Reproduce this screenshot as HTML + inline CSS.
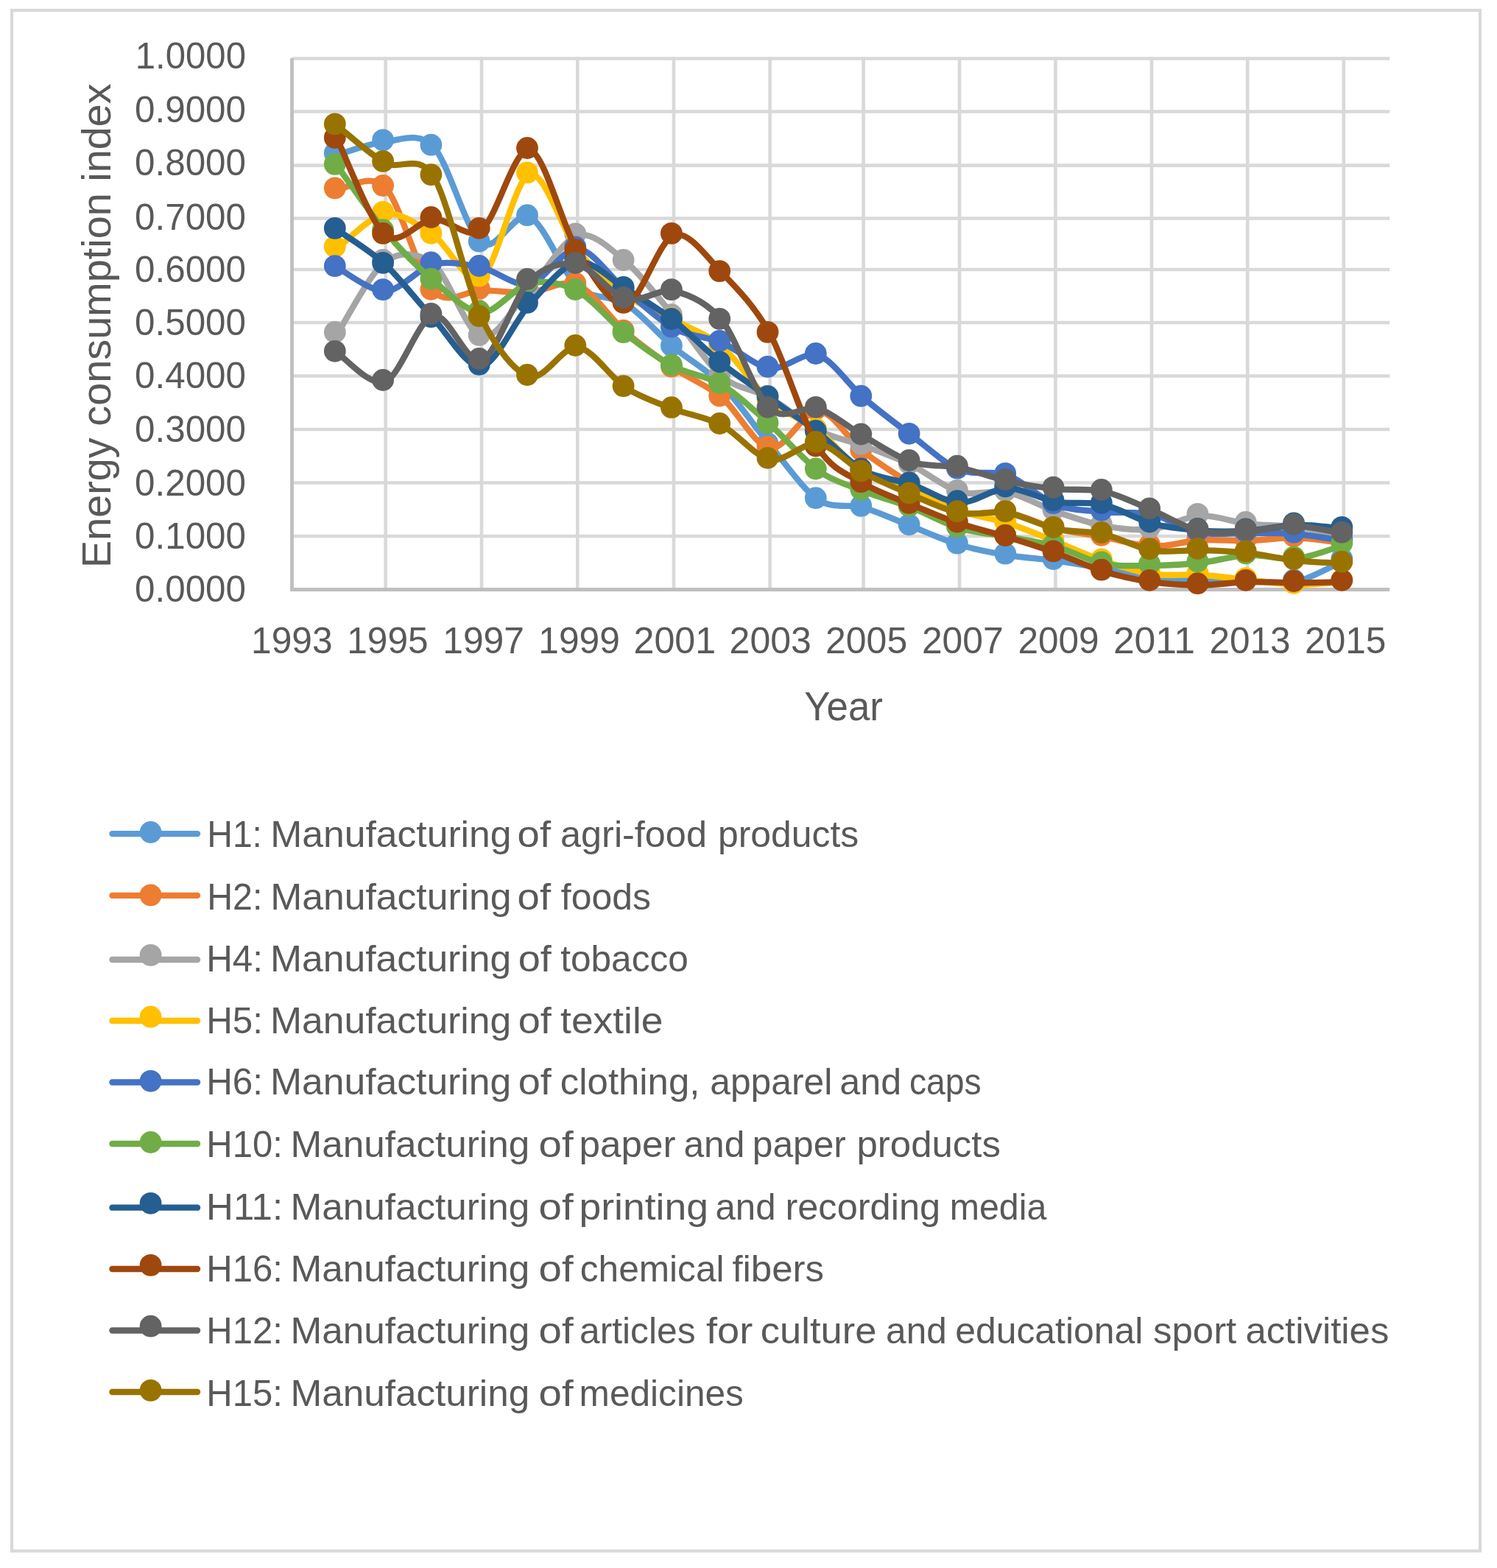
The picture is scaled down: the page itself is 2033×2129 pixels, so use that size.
<!DOCTYPE html>
<html lang="en"><head><meta charset="utf-8"><title>Energy consumption index</title>
<style>html,body{margin:0;padding:0;background:#fff}body{width:2033px;height:2129px;overflow:hidden}svg{display:block}text{font-family:"Liberation Sans",sans-serif;fill:#595959}</style></head><body>
<svg width="2033" height="2129" viewBox="0 0 2033 2129">
<rect width="2033" height="2129" fill="#fff"/>
<rect x="16" y="14" width="1994" height="2091.8" fill="none" stroke="#D9D9D9" stroke-width="4.2"/>
<g stroke="#D9D9D9" stroke-width="4.6" fill="none"><path d="M396.5 79.5H1887.2"/><path d="M396.5 151.5H1887.2"/><path d="M396.5 224.6H1887.2"/><path d="M396.5 296.5H1887.2"/><path d="M396.5 366H1887.2"/><path d="M396.5 438H1887.2"/><path d="M396.5 510.5H1887.2"/><path d="M396.5 583H1887.2"/><path d="M396.5 655.5H1887.2"/><path d="M396.5 728H1887.2"/><path d="M523.6 77.2V800.5"/><path d="M654 77.2V800.5"/><path d="M784.3 77.2V800.5"/><path d="M915 77.2V800.5"/><path d="M1045.6 77.2V800.5"/><path d="M1172.6 77.2V800.5"/><path d="M1303 77.2V800.5"/><path d="M1433.4 77.2V800.5"/><path d="M1564 77.2V800.5"/><path d="M1694.2 77.2V800.5"/><path d="M1824.8 77.2V800.5"/></g>
<g stroke="#BFBFBF" stroke-width="4.8" fill="none"><path d="M396.5 79V802.9"/><path d="M394.1 800.5H1887.2"/></g>
<g fill="#5B9BD5"><path d="M458 210.2C468.12 207.44 503.06 194.14 523.3 192.4C543.54 190.66 568.36 177.67 588.6 199C608.84 220.33 633.66 315.2 653.9 330C674.14 344.8 698.96 285.28 719.2 294.5C739.44 303.72 764.26 371.21 784.5 389.5C804.74 407.79 829.56 399.77 849.8 412.5C870.04 425.23 894.86 454.55 915.1 471.6C935.34 488.65 960.16 501.93 980.4 522.5C1000.64 543.07 1025.46 580.12 1045.7 604.3C1065.94 628.48 1091.35 665.34 1111 678.5C1130.65 691.66 1152.85 683.6 1172.5 689.2C1192.15 694.8 1217.56 706.74 1237.8 714.6C1258.04 722.46 1282.86 733.81 1303.1 739.9C1323.34 745.99 1348.16 750.58 1368.4 753.9C1388.64 757.22 1413.46 758.51 1433.7 761.3C1453.94 764.09 1478.76 768.27 1499 771.9C1519.24 775.53 1544.06 782.13 1564.3 784.7C1584.54 787.27 1609.36 787.91 1629.6 788.5C1649.84 789.09 1674.66 788.3 1694.9 788.5C1715.14 788.7 1739.96 794.08 1760.2 789.8C1780.44 785.52 1815.38 765.38 1825.5 760.9" fill="none" stroke="#5B9BD5" stroke-width="8.3" stroke-linecap="round" stroke-linejoin="round"/>
<circle cx="454.8" cy="207.9" r="14.9"/><circle cx="520.1" cy="190.1" r="14.9"/><circle cx="585.4" cy="196.7" r="14.9"/><circle cx="650.7" cy="327.7" r="14.9"/><circle cx="716" cy="292.2" r="14.9"/><circle cx="781.3" cy="387.2" r="14.9"/><circle cx="846.6" cy="410.2" r="14.9"/><circle cx="911.9" cy="469.3" r="14.9"/><circle cx="977.2" cy="520.2" r="14.9"/><circle cx="1042.5" cy="602" r="14.9"/><circle cx="1107.8" cy="676.2" r="14.9"/><circle cx="1169.3" cy="686.9" r="14.9"/><circle cx="1234.6" cy="712.3" r="14.9"/><circle cx="1299.9" cy="737.6" r="14.9"/><circle cx="1365.2" cy="751.6" r="14.9"/><circle cx="1430.5" cy="759" r="14.9"/><circle cx="1495.8" cy="769.6" r="14.9"/><circle cx="1561.1" cy="782.4" r="14.9"/><circle cx="1626.4" cy="786.2" r="14.9"/><circle cx="1691.7" cy="786.2" r="14.9"/><circle cx="1757" cy="787.5" r="14.9"/><circle cx="1822.3" cy="758.6" r="14.9"/>
</g>
<g fill="#ED7D31"><path d="M458 257.7C468.12 257.17 503.06 233 523.3 254.3C543.54 275.6 568.36 373.42 588.6 395.1C608.84 416.78 633.66 393.91 653.9 394.2C674.14 394.49 698.96 398.15 719.2 397C739.44 395.85 764.26 378.43 784.5 386.8C804.74 395.17 829.56 433.47 849.8 451C870.04 468.53 894.86 486.15 915.1 499.9C935.34 513.65 960.16 522.8 980.4 539.7C1000.64 556.59 1025.46 606.09 1045.7 608.9C1065.94 611.71 1091.35 557.12 1111 557.8C1130.65 558.48 1152.85 597.85 1172.5 613.3C1192.15 628.75 1217.56 644.76 1237.8 657.5C1258.04 670.24 1282.86 689.55 1303.1 695.5C1323.34 701.45 1348.16 692.46 1368.4 695.9C1388.64 699.34 1413.46 712.55 1433.7 717.7C1453.94 722.85 1478.76 725.33 1499 729.1C1519.24 732.87 1544.06 741.32 1564.3 742C1584.54 742.68 1609.36 734.71 1629.6 733.5C1649.84 732.29 1674.66 734.71 1694.9 734.2C1715.14 733.69 1739.96 729.7 1760.2 730.2C1780.44 730.7 1815.38 736.28 1825.5 737.4" fill="none" stroke="#ED7D31" stroke-width="8.3" stroke-linecap="round" stroke-linejoin="round"/>
<circle cx="454.8" cy="255.4" r="14.9"/><circle cx="520.1" cy="252" r="14.9"/><circle cx="585.4" cy="392.8" r="14.9"/><circle cx="650.7" cy="391.9" r="14.9"/><circle cx="716" cy="394.7" r="14.9"/><circle cx="781.3" cy="384.5" r="14.9"/><circle cx="846.6" cy="448.7" r="14.9"/><circle cx="911.9" cy="497.6" r="14.9"/><circle cx="977.2" cy="537.4" r="14.9"/><circle cx="1042.5" cy="606.6" r="14.9"/><circle cx="1107.8" cy="555.5" r="14.9"/><circle cx="1169.3" cy="611" r="14.9"/><circle cx="1234.6" cy="655.2" r="14.9"/><circle cx="1299.9" cy="693.2" r="14.9"/><circle cx="1365.2" cy="693.6" r="14.9"/><circle cx="1430.5" cy="715.4" r="14.9"/><circle cx="1495.8" cy="726.8" r="14.9"/><circle cx="1561.1" cy="739.7" r="14.9"/><circle cx="1626.4" cy="731.2" r="14.9"/><circle cx="1691.7" cy="731.9" r="14.9"/><circle cx="1757" cy="727.9" r="14.9"/><circle cx="1822.3" cy="735.1" r="14.9"/>
</g>
<g fill="#A5A5A5"><path d="M458 453.3C468.12 438.08 503.06 369.79 523.3 355.1C543.54 340.41 568.36 342.67 588.6 358.5C608.84 374.33 633.66 451.93 653.9 457.2C674.14 462.47 698.96 413.81 719.2 392.5C739.44 371.19 764.26 325.47 784.5 319.7C804.74 313.93 829.56 338.28 849.8 355.3C870.04 372.32 894.86 405.34 915.1 429.5C935.34 453.66 960.16 494.07 980.4 511.2C1000.64 528.33 1025.46 528.64 1045.7 540C1065.94 551.36 1091.35 574.39 1111 584.5C1130.65 594.61 1152.85 597.91 1172.5 605.2C1192.15 612.48 1217.56 621.75 1237.8 631.5C1258.04 641.25 1282.86 662.38 1303.1 668.1C1323.34 673.82 1348.16 664.31 1368.4 668.4C1388.64 672.49 1413.46 687.43 1433.7 694.5C1453.94 701.57 1478.76 710.28 1499 714C1519.24 717.72 1544.06 720.64 1564.3 718.5C1584.54 716.36 1609.36 701.32 1629.6 700.2C1649.84 699.08 1674.66 708.93 1694.9 711.3C1715.14 713.67 1739.96 712.85 1760.2 715.5C1780.44 718.15 1815.38 726.4 1825.5 728.4" fill="none" stroke="#A5A5A5" stroke-width="8.3" stroke-linecap="round" stroke-linejoin="round"/>
<circle cx="454.8" cy="451" r="14.9"/><circle cx="520.1" cy="352.8" r="14.9"/><circle cx="585.4" cy="356.2" r="14.9"/><circle cx="650.7" cy="454.9" r="14.9"/><circle cx="716" cy="390.2" r="14.9"/><circle cx="781.3" cy="317.4" r="14.9"/><circle cx="846.6" cy="353" r="14.9"/><circle cx="911.9" cy="427.2" r="14.9"/><circle cx="977.2" cy="508.9" r="14.9"/><circle cx="1042.5" cy="537.7" r="14.9"/><circle cx="1107.8" cy="582.2" r="14.9"/><circle cx="1169.3" cy="602.9" r="14.9"/><circle cx="1234.6" cy="629.2" r="14.9"/><circle cx="1299.9" cy="665.8" r="14.9"/><circle cx="1365.2" cy="666.1" r="14.9"/><circle cx="1430.5" cy="692.2" r="14.9"/><circle cx="1495.8" cy="711.7" r="14.9"/><circle cx="1561.1" cy="716.2" r="14.9"/><circle cx="1626.4" cy="697.9" r="14.9"/><circle cx="1691.7" cy="709" r="14.9"/><circle cx="1757" cy="713.2" r="14.9"/><circle cx="1822.3" cy="726.1" r="14.9"/>
</g>
<g fill="#FFC000"><path d="M458 337.2C468.12 329.9 503.06 292.91 523.3 290.1C543.54 287.29 568.36 305.62 588.6 319.1C608.84 332.59 633.66 389.87 653.9 377.1C674.14 364.33 698.96 242.45 719.2 236.7C739.44 230.95 764.26 314.61 784.5 340C804.74 365.39 829.56 385.85 849.8 400.5C870.04 415.15 894.86 423.65 915.1 434.5C935.34 445.35 960.16 453.45 980.4 470.5C1000.64 487.55 1025.46 526.86 1045.7 544.5C1065.94 562.14 1091.35 569.34 1111 584.3C1130.65 599.26 1152.85 628.88 1172.5 641C1192.15 653.12 1217.56 654.36 1237.8 662.5C1258.04 670.64 1282.86 686.09 1303.1 693.5C1323.34 700.91 1348.16 703.82 1368.4 710.3C1388.64 716.78 1413.46 727.33 1433.7 735.3C1453.94 743.27 1478.76 754.83 1499 761.7C1519.24 768.57 1544.06 776.69 1564.3 779.6C1584.54 782.51 1609.36 779.29 1629.6 780.5C1649.84 781.71 1674.66 785.32 1694.9 787.4C1715.14 789.48 1739.96 793.53 1760.2 793.9C1780.44 794.27 1815.38 790.44 1825.5 789.8" fill="none" stroke="#FFC000" stroke-width="8.3" stroke-linecap="round" stroke-linejoin="round"/>
<circle cx="454.8" cy="334.9" r="14.9"/><circle cx="520.1" cy="287.8" r="14.9"/><circle cx="585.4" cy="316.8" r="14.9"/><circle cx="650.7" cy="374.8" r="14.9"/><circle cx="716" cy="234.4" r="14.9"/><circle cx="781.3" cy="337.7" r="14.9"/><circle cx="846.6" cy="398.2" r="14.9"/><circle cx="911.9" cy="432.2" r="14.9"/><circle cx="977.2" cy="468.2" r="14.9"/><circle cx="1042.5" cy="542.2" r="14.9"/><circle cx="1107.8" cy="582" r="14.9"/><circle cx="1169.3" cy="638.7" r="14.9"/><circle cx="1234.6" cy="660.2" r="14.9"/><circle cx="1299.9" cy="691.2" r="14.9"/><circle cx="1365.2" cy="708" r="14.9"/><circle cx="1430.5" cy="733" r="14.9"/><circle cx="1495.8" cy="759.4" r="14.9"/><circle cx="1561.1" cy="777.3" r="14.9"/><circle cx="1626.4" cy="778.2" r="14.9"/><circle cx="1691.7" cy="785.1" r="14.9"/><circle cx="1757" cy="791.6" r="14.9"/><circle cx="1822.3" cy="787.5" r="14.9"/>
</g>
<g fill="#4472C4"><path d="M458 363.4C468.12 368.36 503.06 396.08 523.3 395.4C543.54 394.72 568.36 363.98 588.6 359C608.84 354.02 633.66 359.12 653.9 363.3C674.14 367.49 698.96 389.98 719.2 386C739.44 382.02 764.26 336.28 784.5 337.6C804.74 338.92 829.56 377.7 849.8 394.5C870.04 411.3 894.86 435.06 915.1 446C935.34 456.94 960.16 456.7 980.4 465.1C1000.64 473.5 1025.46 497.53 1045.7 500.2C1065.94 502.87 1091.35 476.13 1111 482.3C1130.65 488.47 1152.85 523.14 1172.5 540C1192.15 556.86 1217.56 575.91 1237.8 591.1C1258.04 606.29 1282.86 629.61 1303.1 638C1323.34 646.39 1348.16 637.85 1368.4 645.2C1388.64 652.55 1413.46 677.67 1433.7 685.4C1453.94 693.13 1478.76 693.07 1499 695.1C1519.24 697.13 1544.06 694.13 1564.3 698.5C1584.54 702.87 1609.36 719.38 1629.6 723.3C1649.84 727.22 1674.66 723.55 1694.9 723.8C1715.14 724.05 1739.96 723.19 1760.2 724.9C1780.44 726.61 1815.38 733.27 1825.5 734.8" fill="none" stroke="#4472C4" stroke-width="8.3" stroke-linecap="round" stroke-linejoin="round"/>
<circle cx="454.8" cy="361.1" r="14.9"/><circle cx="520.1" cy="393.1" r="14.9"/><circle cx="585.4" cy="356.7" r="14.9"/><circle cx="650.7" cy="361" r="14.9"/><circle cx="716" cy="383.7" r="14.9"/><circle cx="781.3" cy="335.3" r="14.9"/><circle cx="846.6" cy="392.2" r="14.9"/><circle cx="911.9" cy="443.7" r="14.9"/><circle cx="977.2" cy="462.8" r="14.9"/><circle cx="1042.5" cy="497.9" r="14.9"/><circle cx="1107.8" cy="480" r="14.9"/><circle cx="1169.3" cy="537.7" r="14.9"/><circle cx="1234.6" cy="588.8" r="14.9"/><circle cx="1299.9" cy="635.7" r="14.9"/><circle cx="1365.2" cy="642.9" r="14.9"/><circle cx="1430.5" cy="683.1" r="14.9"/><circle cx="1495.8" cy="692.8" r="14.9"/><circle cx="1561.1" cy="696.2" r="14.9"/><circle cx="1626.4" cy="721" r="14.9"/><circle cx="1691.7" cy="721.5" r="14.9"/><circle cx="1757" cy="722.6" r="14.9"/><circle cx="1822.3" cy="732.5" r="14.9"/>
</g>
<g fill="#70AD47"><path d="M458 225.2C468.12 239.04 503.06 290.35 523.3 314.5C543.54 338.65 568.36 363.95 588.6 381C608.84 398.05 633.66 423.96 653.9 424.5C674.14 425.04 698.96 389.03 719.2 384.5C739.44 379.97 764.26 384.62 784.5 395.3C804.74 405.98 829.56 437.53 849.8 453.4C870.04 469.27 894.86 487.02 915.1 497.7C935.34 508.38 960.16 510.1 980.4 522.3C1000.64 534.5 1025.46 558.34 1045.7 576.4C1065.94 594.46 1091.35 624.79 1111 638.8C1130.65 652.81 1152.85 658.99 1172.5 666.8C1192.15 674.61 1217.56 681.39 1237.8 689.2C1258.04 697.01 1282.86 711.06 1303.1 717.2C1323.34 723.34 1348.16 724.97 1368.4 728.8C1388.64 732.63 1413.46 736.18 1433.7 741.9C1453.94 747.62 1478.76 761.69 1499 765.7C1519.24 769.71 1544.06 767.99 1564.3 767.8C1584.54 767.61 1609.36 766.7 1629.6 764.5C1649.84 762.3 1674.66 754.51 1694.9 753.6C1715.14 752.69 1739.96 760.74 1760.2 758.6C1780.44 756.46 1815.38 742.71 1825.5 739.8" fill="none" stroke="#70AD47" stroke-width="8.3" stroke-linecap="round" stroke-linejoin="round"/>
<circle cx="454.8" cy="222.9" r="14.9"/><circle cx="520.1" cy="312.2" r="14.9"/><circle cx="585.4" cy="378.7" r="14.9"/><circle cx="650.7" cy="422.2" r="14.9"/><circle cx="716" cy="382.2" r="14.9"/><circle cx="781.3" cy="393" r="14.9"/><circle cx="846.6" cy="451.1" r="14.9"/><circle cx="911.9" cy="495.4" r="14.9"/><circle cx="977.2" cy="520" r="14.9"/><circle cx="1042.5" cy="574.1" r="14.9"/><circle cx="1107.8" cy="636.5" r="14.9"/><circle cx="1169.3" cy="664.5" r="14.9"/><circle cx="1234.6" cy="686.9" r="14.9"/><circle cx="1299.9" cy="714.9" r="14.9"/><circle cx="1365.2" cy="726.5" r="14.9"/><circle cx="1430.5" cy="739.6" r="14.9"/><circle cx="1495.8" cy="763.4" r="14.9"/><circle cx="1561.1" cy="765.5" r="14.9"/><circle cx="1626.4" cy="762.2" r="14.9"/><circle cx="1691.7" cy="751.3" r="14.9"/><circle cx="1757" cy="756.3" r="14.9"/><circle cx="1822.3" cy="737.5" r="14.9"/>
</g>
<g fill="#255E91"><path d="M458 312.2C468.12 319.49 503.06 340.55 523.3 359.2C543.54 377.85 568.36 411.11 588.6 432.5C608.84 453.89 633.66 500.19 653.9 497.2C674.14 494.21 698.96 435.09 719.2 413.2C739.44 391.31 764.26 359.27 784.5 356C804.74 352.73 829.56 379.81 849.8 392.1C870.04 404.39 894.86 419.57 915.1 435.3C935.34 451.03 960.16 477.29 980.4 493.6C1000.64 509.91 1025.46 525.98 1045.7 540.5C1065.94 555.02 1091.35 572.06 1111 587.3C1130.65 602.54 1152.85 627.89 1172.5 638.8C1192.15 649.71 1217.56 650.93 1237.8 657.7C1258.04 664.47 1282.86 681.71 1303.1 682.5C1323.34 683.29 1348.16 662.95 1368.4 662.8C1388.64 662.64 1413.46 678.03 1433.7 681.5C1453.94 684.97 1478.76 680.66 1499 685.2C1519.24 689.74 1544.06 705.36 1564.3 710.8C1584.54 716.24 1609.36 718.78 1629.6 720.3C1649.84 721.82 1674.66 721.79 1694.9 720.6C1715.14 719.41 1739.96 712.99 1760.2 712.6C1780.44 712.21 1815.38 717.25 1825.5 718.1" fill="none" stroke="#255E91" stroke-width="8.3" stroke-linecap="round" stroke-linejoin="round"/>
<circle cx="454.8" cy="309.9" r="14.9"/><circle cx="520.1" cy="356.9" r="14.9"/><circle cx="585.4" cy="430.2" r="14.9"/><circle cx="650.7" cy="494.9" r="14.9"/><circle cx="716" cy="410.9" r="14.9"/><circle cx="781.3" cy="353.7" r="14.9"/><circle cx="846.6" cy="389.8" r="14.9"/><circle cx="911.9" cy="433" r="14.9"/><circle cx="977.2" cy="491.3" r="14.9"/><circle cx="1042.5" cy="538.2" r="14.9"/><circle cx="1107.8" cy="585" r="14.9"/><circle cx="1169.3" cy="636.5" r="14.9"/><circle cx="1234.6" cy="655.4" r="14.9"/><circle cx="1299.9" cy="680.2" r="14.9"/><circle cx="1365.2" cy="660.5" r="14.9"/><circle cx="1430.5" cy="679.2" r="14.9"/><circle cx="1495.8" cy="682.9" r="14.9"/><circle cx="1561.1" cy="708.5" r="14.9"/><circle cx="1626.4" cy="718" r="14.9"/><circle cx="1691.7" cy="718.3" r="14.9"/><circle cx="1757" cy="710.3" r="14.9"/><circle cx="1822.3" cy="715.8" r="14.9"/>
</g>
<g fill="#9E480E"><path d="M458 189.2C468.12 209.35 503.06 302.44 523.3 319.2C543.54 335.96 568.36 298.4 588.6 297.3C608.84 296.2 633.66 326.67 653.9 312.1C674.14 297.53 698.96 198.74 719.2 203.3C739.44 207.86 764.26 308.97 784.5 341.5C804.74 374.03 829.56 416.66 849.8 413.2C870.04 409.74 894.86 325.83 915.1 319.2C935.34 312.57 960.16 349.63 980.4 370.4C1000.64 391.17 1025.46 416.4 1045.7 453.2C1065.94 490 1091.35 576.3 1111 607.8C1130.65 639.3 1152.85 644.4 1172.5 656.4C1192.15 668.4 1217.56 676.77 1237.8 685.2C1258.04 693.63 1282.86 703.96 1303.1 710.8C1323.34 717.64 1348.16 723.12 1368.4 729.3C1388.64 735.48 1413.46 743.46 1433.7 750.7C1453.94 757.94 1478.76 769.89 1499 776C1519.24 782.11 1544.06 787.23 1564.3 790.1C1584.54 792.97 1609.36 794.5 1629.6 794.5C1649.84 794.5 1674.66 790.6 1694.9 790.1C1715.14 789.6 1739.96 791.3 1760.2 791.3C1780.44 791.3 1815.38 790.29 1825.5 790.1" fill="none" stroke="#9E480E" stroke-width="8.3" stroke-linecap="round" stroke-linejoin="round"/>
<circle cx="454.8" cy="186.9" r="14.9"/><circle cx="520.1" cy="316.9" r="14.9"/><circle cx="585.4" cy="295" r="14.9"/><circle cx="650.7" cy="309.8" r="14.9"/><circle cx="716" cy="201" r="14.9"/><circle cx="781.3" cy="339.2" r="14.9"/><circle cx="846.6" cy="410.9" r="14.9"/><circle cx="911.9" cy="316.9" r="14.9"/><circle cx="977.2" cy="368.1" r="14.9"/><circle cx="1042.5" cy="450.9" r="14.9"/><circle cx="1107.8" cy="605.5" r="14.9"/><circle cx="1169.3" cy="654.1" r="14.9"/><circle cx="1234.6" cy="682.9" r="14.9"/><circle cx="1299.9" cy="708.5" r="14.9"/><circle cx="1365.2" cy="727" r="14.9"/><circle cx="1430.5" cy="748.4" r="14.9"/><circle cx="1495.8" cy="773.7" r="14.9"/><circle cx="1561.1" cy="787.8" r="14.9"/><circle cx="1626.4" cy="792.2" r="14.9"/><circle cx="1691.7" cy="787.8" r="14.9"/><circle cx="1757" cy="789" r="14.9"/><circle cx="1822.3" cy="787.8" r="14.9"/>
</g>
<g fill="#636363"><path d="M458 479.1C468.12 485.18 503.06 526.17 523.3 518.3C543.54 510.43 568.36 432.8 588.6 428.3C608.84 423.81 633.66 496.59 653.9 489.3C674.14 482.01 698.96 401.45 719.2 381.3C739.44 361.15 764.26 355.43 784.5 359.3C804.74 363.18 829.56 400.7 849.8 406.3C870.04 411.9 894.86 390.92 915.1 395.4C935.34 399.88 960.16 410.45 980.4 435.2C1000.64 459.95 1025.46 536.52 1045.7 555.1C1065.94 573.68 1091.35 549.41 1111 555.1C1130.65 560.79 1152.85 580.61 1172.5 591.8C1192.15 602.99 1217.56 620.6 1237.8 627.3C1258.04 634 1282.86 630.99 1303.1 635C1323.34 639.01 1348.16 648.72 1368.4 653.2C1388.64 657.68 1413.46 661.71 1433.7 663.9C1453.94 666.09 1478.76 662.85 1499 667.3C1519.24 671.75 1544.06 684.28 1564.3 692.6C1584.54 700.92 1609.36 716.52 1629.6 721C1649.84 725.48 1674.66 722.57 1694.9 721.5C1715.14 720.43 1739.96 713.57 1760.2 714.1C1780.44 714.63 1815.38 723.23 1825.5 724.9" fill="none" stroke="#636363" stroke-width="8.3" stroke-linecap="round" stroke-linejoin="round"/>
<circle cx="454.8" cy="476.8" r="14.9"/><circle cx="520.1" cy="516" r="14.9"/><circle cx="585.4" cy="426" r="14.9"/><circle cx="650.7" cy="487" r="14.9"/><circle cx="716" cy="379" r="14.9"/><circle cx="781.3" cy="357" r="14.9"/><circle cx="846.6" cy="404" r="14.9"/><circle cx="911.9" cy="393.1" r="14.9"/><circle cx="977.2" cy="432.9" r="14.9"/><circle cx="1042.5" cy="552.8" r="14.9"/><circle cx="1107.8" cy="552.8" r="14.9"/><circle cx="1169.3" cy="589.5" r="14.9"/><circle cx="1234.6" cy="625" r="14.9"/><circle cx="1299.9" cy="632.7" r="14.9"/><circle cx="1365.2" cy="650.9" r="14.9"/><circle cx="1430.5" cy="661.6" r="14.9"/><circle cx="1495.8" cy="665" r="14.9"/><circle cx="1561.1" cy="690.3" r="14.9"/><circle cx="1626.4" cy="718.7" r="14.9"/><circle cx="1691.7" cy="719.2" r="14.9"/><circle cx="1757" cy="711.8" r="14.9"/><circle cx="1822.3" cy="722.6" r="14.9"/>
</g>
<g fill="#997300"><path d="M458 170.7C468.12 178.53 503.06 210.55 523.3 221.2C543.54 231.85 568.36 206.8 588.6 239.4C608.84 272 633.66 389.36 653.9 431.5C674.14 473.64 698.96 505.13 719.2 511.3C739.44 517.47 764.26 468.96 784.5 471.3C804.74 473.64 829.56 513.35 849.8 526.4C870.04 539.45 894.86 547.61 915.1 555.5C935.34 563.39 960.16 566.67 980.4 577.3C1000.64 587.93 1025.46 620.22 1045.7 624.1C1065.94 627.97 1091.35 599.57 1111 602.3C1130.65 605.03 1152.85 630.94 1172.5 641.7C1192.15 652.46 1217.56 663.22 1237.8 671.7C1258.04 680.18 1282.86 692.57 1303.1 696.4C1323.34 700.23 1348.16 693.04 1368.4 696.4C1388.64 699.76 1413.46 713.62 1433.7 718.1C1453.94 722.58 1478.76 720.76 1499 725.3C1519.24 729.84 1544.06 744.02 1564.3 747.4C1584.54 750.78 1609.36 746.59 1629.6 747.1C1649.84 747.61 1674.66 748.51 1694.9 750.7C1715.14 752.89 1739.96 758.98 1760.2 761.2C1780.44 763.42 1815.38 764.41 1825.5 765" fill="none" stroke="#997300" stroke-width="8.3" stroke-linecap="round" stroke-linejoin="round"/>
<circle cx="454.8" cy="168.4" r="14.9"/><circle cx="520.1" cy="218.9" r="14.9"/><circle cx="585.4" cy="237.1" r="14.9"/><circle cx="650.7" cy="429.2" r="14.9"/><circle cx="716" cy="509" r="14.9"/><circle cx="781.3" cy="469" r="14.9"/><circle cx="846.6" cy="524.1" r="14.9"/><circle cx="911.9" cy="553.2" r="14.9"/><circle cx="977.2" cy="575" r="14.9"/><circle cx="1042.5" cy="621.8" r="14.9"/><circle cx="1107.8" cy="600" r="14.9"/><circle cx="1169.3" cy="639.4" r="14.9"/><circle cx="1234.6" cy="669.4" r="14.9"/><circle cx="1299.9" cy="694.1" r="14.9"/><circle cx="1365.2" cy="694.1" r="14.9"/><circle cx="1430.5" cy="715.8" r="14.9"/><circle cx="1495.8" cy="723" r="14.9"/><circle cx="1561.1" cy="745.1" r="14.9"/><circle cx="1626.4" cy="744.8" r="14.9"/><circle cx="1691.7" cy="748.4" r="14.9"/><circle cx="1757" cy="758.9" r="14.9"/><circle cx="1822.3" cy="762.7" r="14.9"/>
</g>
<text transform="translate(183.76 93.2) scale(0.9925 1)" font-size="49.5">1.0000</text>
<text transform="translate(183.07 166.4) scale(0.9971 1)" font-size="49.5">0.9000</text>
<text transform="translate(183.07 238.3) scale(0.9971 1)" font-size="49.5">0.8000</text>
<text transform="translate(183.07 311.8) scale(0.9971 1)" font-size="49.5">0.7000</text>
<text transform="translate(183.07 383.3) scale(0.9971 1)" font-size="49.5">0.6000</text>
<text transform="translate(183.07 455.2) scale(0.9971 1)" font-size="49.5">0.5000</text>
<text transform="translate(183.07 527.1) scale(0.9971 1)" font-size="49.5">0.4000</text>
<text transform="translate(183.07 600.3) scale(0.9971 1)" font-size="49.5">0.3000</text>
<text transform="translate(183.07 672.6) scale(0.9971 1)" font-size="49.5">0.2000</text>
<text transform="translate(183.07 745) scale(0.9971 1)" font-size="49.5">0.1000</text>
<text transform="translate(183.07 817.3) scale(0.9971 1)" font-size="49.5">0.0000</text>
<text transform="translate(341.12 887) scale(1.0031 1)" font-size="49.5">1993</text>
<text transform="translate(471.22 887) scale(1.0022 1)" font-size="49.5">1995</text>
<text transform="translate(601.21 887) scale(1.0062 1)" font-size="49.5">1997</text>
<text transform="translate(731.31 887) scale(1.0048 1)" font-size="49.5">1999</text>
<text transform="translate(860.48 887) scale(1.0141 1)" font-size="49.5">2001</text>
<text transform="translate(990.58 887) scale(1.0109 1)" font-size="49.5">2003</text>
<text transform="translate(1120.99 887) scale(1.0099 1)" font-size="49.5">2005</text>
<text transform="translate(1251.9 887) scale(1.0053 1)" font-size="49.5">2007</text>
<text transform="translate(1382.41 887) scale(1.0002 1)" font-size="49.5">2009</text>
<text transform="translate(1511.91 887) scale(1.0420 1)" font-size="49.5">2011</text>
<text transform="translate(1642.51 887) scale(0.9985 1)" font-size="49.5">2013</text>
<text transform="translate(1772.1 887) scale(1.0024 1)" font-size="49.5">2015</text>
<text transform="translate(1092.14 977.8) scale(0.9528 1)" font-size="55.5">Year</text>
<text transform="translate(149.8 771.08) rotate(-90) scale(1.0059 1)" font-size="55.5">Energy consumption index</text>
<path d="M152.4 1132.1H268.1" stroke="#5B9BD5" stroke-width="8.3" stroke-linecap="round" fill="none"/><circle cx="204.6" cy="1130" r="14.9" fill="#5B9BD5"/>
<text transform="translate(281.16 1150.1) scale(0.9715 1)" font-size="49.5">H1:</text><text transform="translate(367.26 1150.1) scale(1.0436 1)" font-size="49.5">Manufacturing</text><text transform="translate(702.61 1150.1) scale(1.0999 1)" font-size="49.5">of</text><text transform="translate(761.06 1150.1) scale(1.0180 1)" font-size="49.5">agri-food</text><text transform="translate(974.88 1150.1) scale(1.0082 1)" font-size="49.5">products</text>
<path d="M152.4 1215.9H268.1" stroke="#ED7D31" stroke-width="8.3" stroke-linecap="round" fill="none"/><circle cx="204.6" cy="1215.4" r="14.9" fill="#ED7D31"/>
<text transform="translate(281.13 1234.6) scale(0.9774 1)" font-size="49.5">H2:</text><text transform="translate(367.26 1234.6) scale(1.0436 1)" font-size="49.5">Manufacturing</text><text transform="translate(702.61 1234.6) scale(1.0999 1)" font-size="49.5">of</text><text transform="translate(761.79 1234.6) scale(1.0084 1)" font-size="49.5">foods</text>
<path d="M152.4 1303H268.1" stroke="#A5A5A5" stroke-width="8.3" stroke-linecap="round" fill="none"/><circle cx="204.6" cy="1296.9" r="14.9" fill="#A5A5A5"/>
<text transform="translate(280.25 1319.1) scale(0.9964 1)" font-size="49.5">H4:</text><text transform="translate(366.96 1319.1) scale(1.0436 1)" font-size="49.5">Manufacturing</text><text transform="translate(703.63 1319.1) scale(1.0923 1)" font-size="49.5">of</text><text transform="translate(761.15 1319.1) scale(1.0021 1)" font-size="49.5">tobacco</text>
<path d="M152.4 1386H268.1" stroke="#FFC000" stroke-width="8.3" stroke-linecap="round" fill="none"/><circle cx="204.6" cy="1380.7" r="14.9" fill="#FFC000"/>
<text transform="translate(280.25 1402.9) scale(0.9964 1)" font-size="49.5">H5:</text><text transform="translate(366.96 1402.9) scale(1.0436 1)" font-size="49.5">Manufacturing</text><text transform="translate(703.63 1402.9) scale(1.0923 1)" font-size="49.5">of</text><text transform="translate(761.09 1402.9) scale(1.0779 1)" font-size="49.5">textile</text>
<path d="M152.4 1469.5H268.1" stroke="#4472C4" stroke-width="8.3" stroke-linecap="round" fill="none"/><circle cx="204.6" cy="1467.8" r="14.9" fill="#4472C4"/>
<text transform="translate(280.25 1486.4) scale(0.9964 1)" font-size="49.5">H6:</text><text transform="translate(366.96 1486.4) scale(1.0436 1)" font-size="49.5">Manufacturing</text><text transform="translate(703.63 1486.4) scale(1.0923 1)" font-size="49.5">of</text><text transform="translate(760.84 1486.4) scale(1.0280 1)" font-size="49.5">clothing,</text><text transform="translate(964.29 1486.4) scale(1.0049 1)" font-size="49.5">apparel</text><text transform="translate(1140.37 1486.4) scale(1.0143 1)" font-size="49.5">and</text><text transform="translate(1234.93 1486.4) scale(0.9348 1)" font-size="49.5">caps</text>
<path d="M152.4 1553H268.1" stroke="#70AD47" stroke-width="8.3" stroke-linecap="round" fill="none"/><circle cx="204.6" cy="1551" r="14.9" fill="#70AD47"/>
<text transform="translate(280.28 1570.9) scale(0.9908 1)" font-size="49.5">H10:</text><text transform="translate(394.6 1570.9) scale(1.0352 1)" font-size="49.5">Manufacturing</text><text transform="translate(731.53 1570.9) scale(1.1406 1)" font-size="49.5">of</text><text transform="translate(786.6 1570.9) scale(1.0343 1)" font-size="49.5">paper</text><text transform="translate(928.49 1570.9) scale(1.0039 1)" font-size="49.5">and</text><text transform="translate(1021.8 1570.9) scale(1.0042 1)" font-size="49.5">paper</text><text transform="translate(1163.52 1570.9) scale(1.0293 1)" font-size="49.5">products</text>
<path d="M152.4 1639.7H268.1" stroke="#255E91" stroke-width="8.3" stroke-linecap="round" fill="none"/><circle cx="204.6" cy="1633.8" r="14.9" fill="#255E91"/>
<text transform="translate(280.12 1655.6) scale(1.0303 1)" font-size="49.5">H11:</text><text transform="translate(394.6 1655.6) scale(1.0352 1)" font-size="49.5">Manufacturing</text><text transform="translate(731.53 1655.6) scale(1.1406 1)" font-size="49.5">of</text><text transform="translate(786.45 1655.6) scale(1.0810 1)" font-size="49.5">printing</text><text transform="translate(971.41 1655.6) scale(0.9949 1)" font-size="49.5">and</text><text transform="translate(1066.44 1655.6) scale(1.0211 1)" font-size="49.5">recording</text><text transform="translate(1289.69 1655.6) scale(0.9762 1)" font-size="49.5">media</text>
<path d="M152.4 1723H268.1" stroke="#9E480E" stroke-width="8.3" stroke-linecap="round" fill="none"/><circle cx="204.6" cy="1717.9" r="14.9" fill="#9E480E"/>
<text transform="translate(280.28 1739.9) scale(0.9908 1)" font-size="49.5">H16:</text><text transform="translate(394.6 1739.9) scale(1.0352 1)" font-size="49.5">Manufacturing</text><text transform="translate(731.53 1739.9) scale(1.1406 1)" font-size="49.5">of</text><text transform="translate(787.79 1739.9) scale(1.0021 1)" font-size="49.5">chemical</text><text transform="translate(994.38 1739.9) scale(1.0299 1)" font-size="49.5">fibers</text>
<path d="M152.4 1806.5H268.1" stroke="#636363" stroke-width="8.3" stroke-linecap="round" fill="none"/><circle cx="204.6" cy="1800.7" r="14.9" fill="#636363"/>
<text transform="translate(280.28 1823.6) scale(0.9908 1)" font-size="49.5">H12:</text><text transform="translate(394.6 1823.6) scale(1.0352 1)" font-size="49.5">Manufacturing</text><text transform="translate(731.53 1823.6) scale(1.1406 1)" font-size="49.5">of</text><text transform="translate(786.99 1823.6) scale(1.0052 1)" font-size="49.5">articles</text><text transform="translate(958.93 1823.6) scale(1.0952 1)" font-size="49.5">for</text><text transform="translate(1032.87 1823.6) scale(1.0605 1)" font-size="49.5">culture</text><text transform="translate(1203.1 1823.6) scale(1.0001 1)" font-size="49.5">and</text><text transform="translate(1297.18 1823.6) scale(1.0077 1)" font-size="49.5">educational</text><text transform="translate(1566.08 1823.6) scale(1.0286 1)" font-size="49.5">sport</text><text transform="translate(1691.44 1823.6) scale(1.0268 1)" font-size="49.5">activities</text>
<path d="M152.4 1890H268.1" stroke="#997300" stroke-width="8.3" stroke-linecap="round" fill="none"/><circle cx="204.6" cy="1887.9" r="14.9" fill="#997300"/>
<text transform="translate(280.28 1908.5) scale(0.9908 1)" font-size="49.5">H15:</text><text transform="translate(394.6 1908.5) scale(1.0352 1)" font-size="49.5">Manufacturing</text><text transform="translate(731.53 1908.5) scale(1.1406 1)" font-size="49.5">of</text><text transform="translate(786.6 1908.5) scale(1.0024 1)" font-size="49.5">medicines</text>
</svg></body></html>
